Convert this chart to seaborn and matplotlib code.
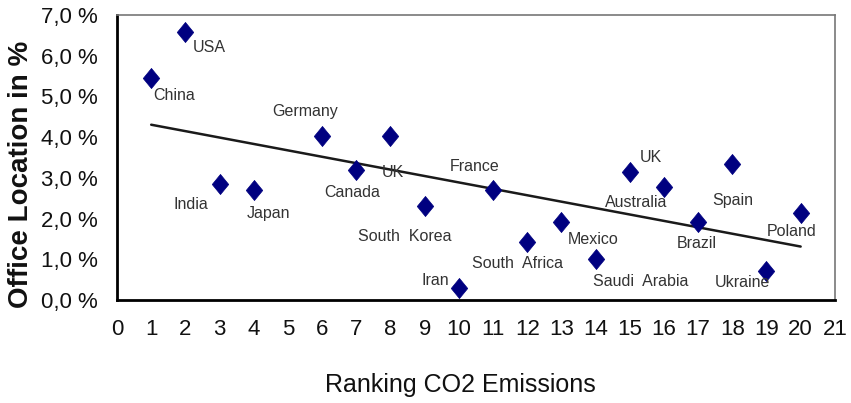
import matplotlib
matplotlib.use("Agg")
import matplotlib.pyplot as plt
import seaborn as sns
import pandas as pd
from matplotlib.path import Path
from matplotlib.ticker import FuncFormatter, MultipleLocator

# ranking of CO2 emissions vs. share of office locations (%)
ranking = [1, 2, 3, 4, 6, 7, 8, 9, 10, 11, 12, 13, 14, 15, 16, 17, 18, 19, 20]
office_share = [5.45, 6.58, 2.85, 2.70, 4.03, 3.19, 4.03, 2.31, 0.29, 2.70,
                1.42, 1.92, 1.00, 3.14, 2.78, 1.92, 3.34, 0.71, 2.14]
countries = ["China", "USA", "India", "Japan", "Germany", "Canada", "UK",
             "South  Korea", "Iran", "France", "South  Africa", "Mexico",
             "Saudi  Arabia", "UK", "Australia", "Brazil", "Spain", "Ukraine",
             "Poland"]
# label offsets in pixels (dx, dy)
label_offsets = [(23, -17), (24, -15), (-29, -21), (15, -23), (-17, 24),
                 (-4, -22), (2, -37), (-20, -31), (-24, 8), (-18, 24),
                 (-10, -21), (32, -18), (45, -22), (21, 15), (-28, -16),
                 (-1, -22), (0, -36), (-24, -11), (-9, -19)]

df = pd.DataFrame({"rank": ranking, "share": office_share, "country": countries})

# slightly tall diamond like the excel marker
diamond = Path([(0, 1), (0.82, 0), (0, -1), (-0.82, 0), (0, 1)],
               [Path.MOVETO, Path.LINETO, Path.LINETO, Path.LINETO, Path.CLOSEPOLY])

sns.set_style("white")
plt.rcParams["font.family"] = ["Liberation Sans", "DejaVu Sans"]

fig = plt.figure(figsize=(8.51, 4.03), dpi=100)
ax = fig.add_axes([0.1375, 0.2556, 0.8435, 0.7072])

sns.regplot(data=df, x="rank", y="share", ci=None, ax=ax,
            scatter_kws={"s": 0, "alpha": 0},
            line_kws={"color": "#1a1a1a", "linewidth": 1.8})
sns.scatterplot(data=df, x="rank", y="share", ax=ax, marker=diamond, s=210,
                color="#000080", edgecolor="#000080", linewidth=0.5, zorder=3)

for (_, row), (dx, dy) in zip(df.iterrows(), label_offsets):
    ax.annotate(row["country"], (row["rank"], row["share"]),
                xytext=(dx, dy), textcoords="offset pixels",
                ha="center", va="center", fontsize=11.5, color="#333333")

ax.set_xlim(0, 21)
ax.set_ylim(0, 7)
ax.xaxis.set_major_locator(MultipleLocator(1))
ax.yaxis.set_major_locator(MultipleLocator(1))
ax.yaxis.set_major_formatter(FuncFormatter(lambda v, p: f"{v:.1f} %".replace(".", ",")))

ax.tick_params(axis="both", which="major", direction="out", length=6, width=1.5,
               labelsize=16, color="black", labelcolor="#111111", pad=8)

for side in ["left", "bottom"]:
    ax.spines[side].set_color("black")
    ax.spines[side].set_linewidth(2)
for side in ["top", "right"]:
    ax.spines[side].set_color("#777777")
    ax.spines[side].set_linewidth(1.2)

ax.set_xlabel("Ranking CO2 Emissions", fontsize=18, color="#111111")
ax.set_ylabel("Office Location in %", fontsize=20, fontweight="bold", color="#111111")
ax.xaxis.set_label_coords(0.479, -0.255)
ax.yaxis.set_label_coords(-0.116, 0.44)

fig.savefig("out.png", dpi=100)
